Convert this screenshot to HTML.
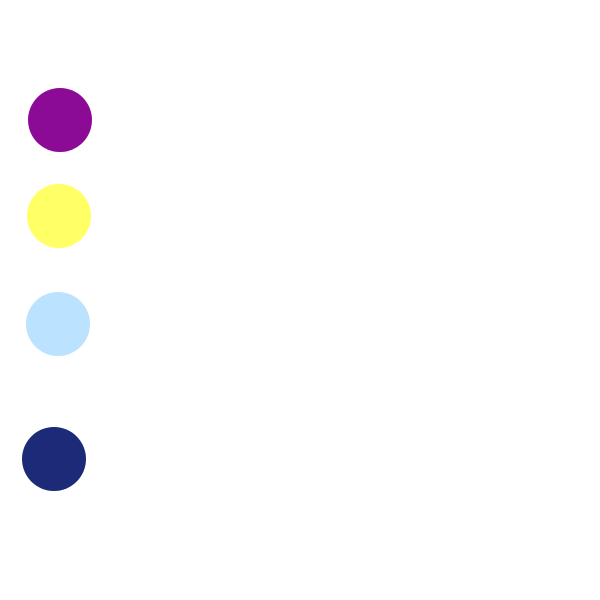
<!DOCTYPE html>
<html>
<head>
<meta charset="utf-8">
<style>
  html, body { margin: 0; padding: 0; background: #ffffff; }
  svg { display: block; }
</style>
</head>
<body>
<svg id="chart" width="600" height="600"></svg>
<script>
const categories = ["a", "b", "c", "d"];
const xValues = [6.0, 5.9, 5.8, 5.4];
const yValues = [12.0, 21.6, 32.4, 45.9];
const colors = ["#8b0a96", "#ffff66", "#bbe2ff", "#1c2a78"];
const radius = 32;

function xScale(v) { return v * 10; }
function yScale(v) { return v * 10; }

const svg = document.getElementById('chart');
const NS = 'http://www.w3.org/2000/svg';
for (let i = 0; i < categories.length; i++) {
  const c = document.createElementNS(NS, 'circle');
  c.setAttribute('cx', xScale(xValues[i]));
  c.setAttribute('cy', yScale(yValues[i]));
  c.setAttribute('r', radius);
  c.setAttribute('fill', colors[i]);
  
  
  svg.appendChild(c);
}
</script>
</body>
</html>
